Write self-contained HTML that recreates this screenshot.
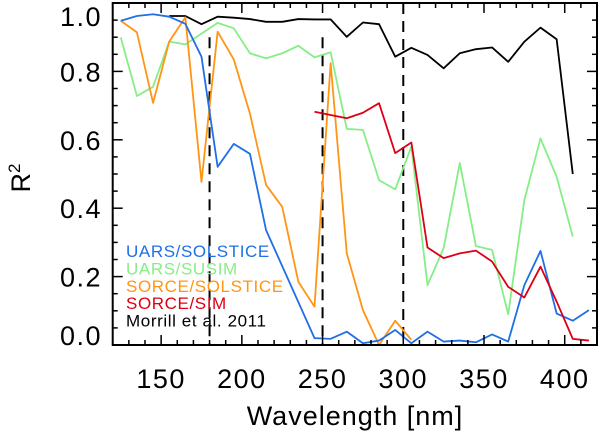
<!DOCTYPE html>
<html><head><meta charset="utf-8"><style>
html,body{margin:0;padding:0;background:#fff;}
svg{display:block;font-family:"Liberation Sans","DejaVu Sans",sans-serif;}
</style></head><body>
<svg id="chart" width="600" height="436" viewBox="0 0 600 436">
<g id="marks"></g>
<g id="axes"></g>
</svg>
<script>
const xTicksMajor = [150,200,250,300,350,400];
const yTicksMajor = [0,0.2,0.4,0.6,0.8,1.0];
const yTickLabels = ["0.0","0.2","0.4","0.6","0.8","1.0"];
const dashedLines = [180,250,300];
const dashedTops = [0.9,0.9,1.0];

const blueW = [125,135,145,155,165,175,185,195,205,215,245,255,265,275,285,295,305,315,325,335,345,355,365,375,385,395,405,415];
const blueV = [0.948,0.962,0.967,0.960,0.939,0.843,0.521,0.588,0.559,0.336,0.020,0.018,0.039,0.005,0.013,0.044,0.005,0.039,0.010,0.013,0.008,0.031,0.010,0.175,0.275,0.092,0.071,0.102];

const greenW = [125,135,145,155,165,185,195,205,215,225,235,245,255,265,275,285,295,305,315,325,335,345,355,365,375,385,395,405];
const greenV = [0.899,0.728,0.755,0.887,0.879,0.942,0.926,0.853,0.838,0.853,0.875,0.841,0.856,0.632,0.629,0.482,0.455,0.580,0.175,0.283,0.532,0.289,0.278,0.090,0.424,0.604,0.492,0.317];

const orangeW = [125,135,145,155,165,175,185,195,205,215,225,235,245,255,265,275,285,295,305];
const orangeV = [0.948,0.914,0.708,0.887,0.958,0.477,0.916,0.835,0.677,0.468,0.404,0.185,0.112,0.824,0.268,0.102,0.0,0.071,0.015];

const redW = [245,265,275,285,295,305,315,325,335,345,355,365,375,385,395,405,415];
const redV = [0.682,0.663,0.679,0.707,0.561,0.592,0.285,0.254,0.268,0.276,0.244,0.170,0.139,0.229,0.127,0.018,0.013];

const blackW = [155,165,175,185,195,205,215,225,235,245,255,265,275,285,295,305,315,325,335,345,355,365,375,385,395,405];
const blackV = [0.962,0.962,0.938,0.960,0.957,0.953,0.945,0.945,0.953,0.952,0.952,0.901,0.943,0.938,0.843,0.869,0.848,0.809,0.853,0.865,0.870,0.828,0.887,0.928,0.894,0.5];

const legendLabels = ["UARS/SOLSTICE","UARS/SUSIM","SORCE/SOLSTICE","SORCE/SIM","Morrill et al. 2011"];
const seriesColors = ["#1f6fe6","#86ee86","#ff9515","#dd0015","#000000"];

const L=112.7,R=597,T=3,B=345,X0=120,X1=420;
function xs(w){return L+(w-X0)*(R-L)/(X1-X0);}
function ys(v){return B-v*(B-T);}
const NS="http://www.w3.org/2000/svg";
const marks=document.getElementById('marks');
const axes=document.getElementById('axes');
function mk(tag,attrs,parent){const e=document.createElementNS(NS,tag);for(const k in attrs)e.setAttribute(k,attrs[k]);parent.appendChild(e);return e;}

dashedLines.forEach((w,i)=>{
  const l=mk('line',{x1:xs(w),x2:xs(w),y1:ys(dashedTops[i]),y2:B,stroke:'#000','stroke-width':2,'stroke-dasharray':'11,7'},marks);
  
  
});

function series(W,V,color,name){
  const p=mk('polyline',{points:W.map((w,i)=>xs(w)+','+ys(V[i])).join(' '),fill:'none',stroke:color,'stroke-width':1.8,'stroke-linejoin':'round'},marks);
  
  
}
series(greenW,greenV,seriesColors[1],'uars-susim-line');
series(blackW,blackV,seriesColors[4],'morrill-2011-line');
series(orangeW,orangeV,seriesColors[2],'sorce-solstice-line');
series(blueW,blueV,seriesColors[0],'uars-solstice-line');
series(redW,redV,seriesColors[3],'sorce-sim-line');

const fr=mk('rect',{x:L,y:T,width:R-L,height:B-T,fill:'none',stroke:'#000','stroke-width':2},axes);



for(let w=130;w<=420;w+=10){
  const major=(w%50===0);
  const len=major?10:5;
  mk('line',{x1:xs(w),x2:xs(w),y1:B,y2:B-len,stroke:'#000','stroke-width':1.5},axes);
  mk('line',{x1:xs(w),x2:xs(w),y1:T,y2:T+len,stroke:'#000','stroke-width':1.5},axes);
}
xTicksMajor.forEach(w=>{
  const t=mk('text',{x:xs(w),y:388,'text-anchor':'middle','font-size':27,'letter-spacing':1.5,fill:'#000'},axes);
  t.textContent=w;
  
  
});
for(let k=1;k<20;k++){
  const v=k*0.05;
  const major=(k%4===0);
  const len=major?10:5;
  mk('line',{x1:L,x2:L+len,y1:ys(v),y2:ys(v),stroke:'#000','stroke-width':1.5},axes);
  mk('line',{x1:R,x2:R-len,y1:ys(v),y2:ys(v),stroke:'#000','stroke-width':1.5},axes);
}
yTicksMajor.forEach((v,i)=>{
  const yy=Math.min(Math.max(ys(v),16),335);
  const t=mk('text',{x:102,y:yy+10,'text-anchor':'end','font-size':27,'letter-spacing':1.5,fill:'#000'},axes);
  t.textContent=yTickLabels[i];
  
  
});
const xt=mk('text',{x:355,y:425,'text-anchor':'middle','font-size':27,'letter-spacing':1,fill:'#000'},axes);
xt.textContent='Wavelength [nm]';


const yt=mk('text',{x:0,y:0,'text-anchor':'middle','font-size':27,fill:'#000',transform:'translate(30,178) rotate(-90)'},axes);
yt.innerHTML='R<tspan font-size="17" dy="-10">2</tspan>';


legendLabels.forEach((s,i)=>{
  const t=mk('text',{x:126,y:257+i*17.4,'font-size':17,'letter-spacing':0.6,fill:seriesColors[i]},axes);
  t.textContent=s;
  
  
});
</script>
</body></html>
